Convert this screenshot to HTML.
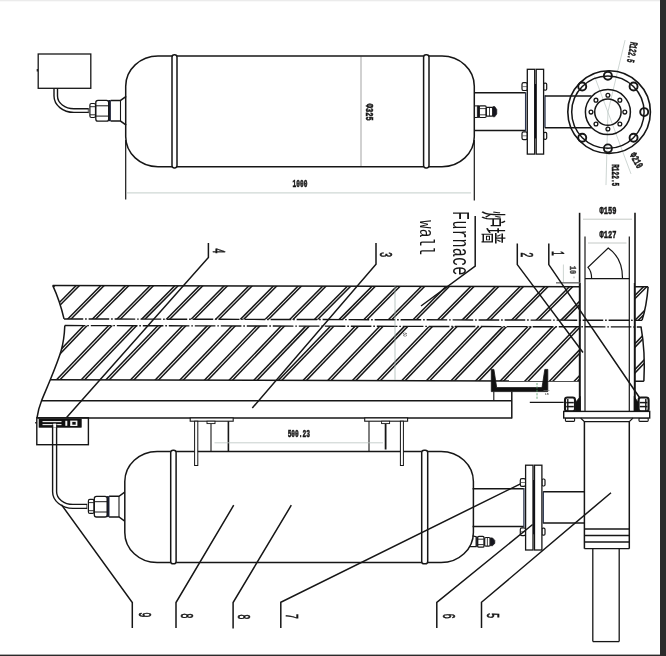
<!DOCTYPE html>
<html lang="zh"><head><meta charset="utf-8"><title>Furnace wall drawing</title>
<style>html,body{margin:0;padding:0;background:#fff;}body{width:666px;height:656px;overflow:hidden;}svg{display:block;will-change:transform;opacity:0.999;}</style>
</head><body>
<svg width="666" height="656" viewBox="0 0 666 656" font-family="'Liberation Sans','Noto Sans CJK SC',sans-serif">
<rect x="0" y="0" width="666" height="656" fill="#ffffff"/>
<rect x="0" y="0" width="660" height="1.3" fill="#ebebeb"/>
<rect x="660" y="0" width="6" height="656" fill="#2b2b2b"/>
<rect x="0" y="654.6" width="666" height="1.4" fill="#2b2b2b"/>
<line x1="125.70" y1="140.00" x2="125.70" y2="199.40" stroke="#161616" stroke-width="1.2" />
<line x1="474.30" y1="140.00" x2="474.30" y2="200.50" stroke="#161616" stroke-width="1.2" />
<line x1="127.00" y1="192.90" x2="471.00" y2="192.90" stroke="#cfd8d5" stroke-width="1.1" />
<line x1="361.00" y1="56.50" x2="361.00" y2="166.00" stroke="#666" stroke-width="0.6" />
<text transform="translate(300.00 184.30) rotate(0) scale(0.66 1.15)" font-family="'Liberation Mono',monospace" font-size="9.4" font-weight="bold" text-anchor="middle" dominant-baseline="central" fill="#161616" letter-spacing="0"  stroke="#161616" stroke-width="0.45">1000</text>
<text transform="translate(368.60 112.20) rotate(90) scale(0.75 1.15)" font-family="'Liberation Mono',monospace" font-size="9.4" font-weight="bold" text-anchor="middle" dominant-baseline="central" fill="#161616" letter-spacing="0"  stroke="#161616" stroke-width="0.45">Φ325</text>
<path d="M172.00 56.00 L158.00 56.00 C140.16 56.00 125.70 69.52 125.70 86.20 L125.70 136.50 C125.70 153.18 140.16 166.70 158.00 166.70 L172.00 166.70" stroke="#161616" stroke-width="1.5" fill="none" />
<path d="M429.00 56.00 L442.00 56.00 C459.84 56.00 474.30 69.52 474.30 86.20 L474.30 136.50 C474.30 153.18 459.84 166.70 442.00 166.70 L429.00 166.70" stroke="#161616" stroke-width="1.5" fill="none" />
<line x1="177.00" y1="56.00" x2="423.60" y2="56.00" stroke="#161616" stroke-width="1.5" />
<line x1="177.00" y1="166.70" x2="423.60" y2="166.70" stroke="#161616" stroke-width="1.5" />
<rect x="172.00" y="54.80" width="5.00" height="113.10" rx="2.4" stroke="#161616" stroke-width="1.5" fill="#fff"/>
<rect x="423.60" y="54.80" width="5.40" height="113.10" rx="2.4" stroke="#161616" stroke-width="1.5" fill="#fff"/>
<path d="M126.20 96.30 L120.50 100.40 L110.60 100.40 M126.20 125.20 L120.50 121.10 L110.60 121.10" stroke="#161616" stroke-width="1.5" fill="none" />
<line x1="120.50" y1="100.40" x2="120.50" y2="121.10" stroke="#161616" stroke-width="1.1" />
<rect x="108.70" y="100.60" width="1.90" height="20.30" rx="0" stroke="#10142a" stroke-width="0.6" fill="#1b2038"/>
<rect x="95.80" y="100.40" width="12.90" height="20.70" rx="2.2" stroke="#161616" stroke-width="1.3" fill="none"/>
<line x1="96.00" y1="105.80" x2="108.60" y2="105.80" stroke="#161616" stroke-width="1" />
<line x1="96.00" y1="116.10" x2="108.60" y2="116.10" stroke="#161616" stroke-width="1" />
<rect x="89.90" y="103.50" width="5.60" height="14.00" rx="1.5" stroke="#161616" stroke-width="1.2" fill="none"/>
<line x1="90.00" y1="106.70" x2="95.40" y2="106.70" stroke="#161616" stroke-width="0.9" />
<line x1="90.00" y1="114.80" x2="95.40" y2="114.80" stroke="#161616" stroke-width="0.9" />
<line x1="88.30" y1="108.30" x2="88.30" y2="113.20" stroke="#555" stroke-width="1" />
<rect x="38.20" y="54.00" width="52.60" height="34.30" rx="0" stroke="#161616" stroke-width="1.3" fill="none"/>
<line x1="37.30" y1="69.00" x2="37.30" y2="71.50" stroke="#161616" stroke-width="1.2" />
<path d="M54.0 88.3 L54.0 96 A19.9 16.4 0 0 0 73.9 112.4 L88.6 112.4" stroke="#161616" stroke-width="1.4" fill="none" />
<path d="M57.5 88.3 L57.5 96 A16.4 12.7 0 0 0 73.9 108.7 L88.6 108.7" stroke="#161616" stroke-width="1.4" fill="none" />
<line x1="474.30" y1="105.90" x2="477.20" y2="105.90" stroke="#161616" stroke-width="1" />
<line x1="474.30" y1="117.50" x2="477.20" y2="117.50" stroke="#161616" stroke-width="1" />
<rect x="477.20" y="105.70" width="2.00" height="12.00" rx="0" stroke="#161616" stroke-width="0.6" fill="#15151f"/>
<rect x="479.20" y="105.90" width="7.00" height="11.60" rx="1.2" stroke="#161616" stroke-width="1.2" fill="none"/>
<line x1="479.40" y1="108.60" x2="486.00" y2="108.60" stroke="#161616" stroke-width="0.8" />
<line x1="479.40" y1="114.80" x2="486.00" y2="114.80" stroke="#161616" stroke-width="0.8" />
<rect x="486.20" y="107.30" width="6.60" height="8.80" rx="1.2" stroke="#161616" stroke-width="1.2" fill="none"/>
<line x1="489.50" y1="107.50" x2="489.50" y2="116.00" stroke="#161616" stroke-width="0.8" />
<path d="M492.8 106.6 L494.8 106.6 L496.8 109.5 L496.8 113.9 L494.8 116.8 L492.8 116.8 Z" stroke="#161616" stroke-width="0.6" fill="#15151f" />
<line x1="474.30" y1="92.80" x2="525.50" y2="92.80" stroke="#161616" stroke-width="1.5" />
<line x1="474.30" y1="130.50" x2="525.50" y2="130.50" stroke="#161616" stroke-width="1.5" />
<line x1="525.60" y1="92.20" x2="525.60" y2="131.00" stroke="#2a3550" stroke-width="1.3" />
<line x1="545.00" y1="95.30" x2="545.00" y2="127.70" stroke="#2a3550" stroke-width="1.3" />
<rect x="522.00" y="82.70" width="5.30" height="7.80" rx="1.6" stroke="#161616" stroke-width="1.2" fill="#fff"/>
<line x1="522.30" y1="86.60" x2="527.00" y2="86.60" stroke="#444" stroke-width="0.7" />
<rect x="543.60" y="83.10" width="3.10" height="7.00" rx="1.2" stroke="#161616" stroke-width="1.2" fill="#fff"/>
<rect x="522.00" y="131.90" width="5.30" height="7.80" rx="1.6" stroke="#161616" stroke-width="1.2" fill="#fff"/>
<line x1="522.30" y1="135.80" x2="527.00" y2="135.80" stroke="#444" stroke-width="0.7" />
<rect x="543.60" y="132.30" width="3.10" height="7.00" rx="1.2" stroke="#161616" stroke-width="1.2" fill="#fff"/>
<rect x="527.30" y="69.30" width="7.40" height="84.80" rx="0" stroke="#161616" stroke-width="1.3" fill="#fff"/>
<rect x="536.20" y="69.30" width="7.40" height="84.80" rx="0" stroke="#161616" stroke-width="1.3" fill="#fff"/>
<line x1="535.45" y1="84.00" x2="535.45" y2="138.40" stroke="#0c0c14" stroke-width="1.3" />
<line x1="545.00" y1="96.00" x2="591.50" y2="96.00" stroke="#161616" stroke-width="1.5" />
<line x1="545.00" y1="127.70" x2="591.50" y2="127.70" stroke="#161616" stroke-width="1.5" />
<line x1="607.90" y1="112.10" x2="625.05" y2="40.11" stroke="#b9c4c0" stroke-width="0.7" />
<line x1="594.59" y1="76.51" x2="631.01" y2="173.92" stroke="#b9c4c0" stroke-width="0.7" />
<line x1="607.90" y1="112.10" x2="605.99" y2="185.07" stroke="#b9c4c0" stroke-width="0.7" />
<circle cx="609.10" cy="112.10" r="41.30" stroke="#161616" stroke-width="1.6" fill="none"/>
<circle cx="607.90" cy="112.10" r="36.20" stroke="#161616" stroke-width="1.5" fill="none"/>
<circle cx="607.90" cy="112.10" r="22.50" stroke="#161616" stroke-width="1.5" fill="none"/>
<circle cx="607.90" cy="112.10" r="13.20" stroke="#161616" stroke-width="1.5" fill="none"/>
<circle cx="644.20" cy="112.10" r="4.00" stroke="#161616" stroke-width="1.9" fill="none"/>
<circle cx="633.57" cy="86.43" r="4.00" stroke="#161616" stroke-width="1.9" fill="none"/>
<circle cx="607.90" cy="75.80" r="4.00" stroke="#161616" stroke-width="1.9" fill="none"/>
<circle cx="582.23" cy="86.43" r="4.00" stroke="#161616" stroke-width="1.9" fill="none"/>
<circle cx="582.23" cy="137.77" r="4.00" stroke="#161616" stroke-width="1.9" fill="none"/>
<circle cx="607.90" cy="148.40" r="4.00" stroke="#161616" stroke-width="1.9" fill="none"/>
<circle cx="633.57" cy="137.77" r="4.00" stroke="#161616" stroke-width="1.9" fill="none"/>
<circle cx="624.80" cy="112.10" r="1.90" stroke="#161616" stroke-width="1.3" fill="none"/>
<circle cx="619.85" cy="100.15" r="1.90" stroke="#161616" stroke-width="1.3" fill="none"/>
<circle cx="607.90" cy="95.20" r="1.90" stroke="#161616" stroke-width="1.3" fill="none"/>
<circle cx="595.95" cy="100.15" r="1.90" stroke="#161616" stroke-width="1.3" fill="none"/>
<circle cx="591.00" cy="112.10" r="1.90" stroke="#161616" stroke-width="1.3" fill="none"/>
<circle cx="595.95" cy="124.05" r="1.90" stroke="#161616" stroke-width="1.3" fill="none"/>
<circle cx="607.90" cy="129.00" r="1.90" stroke="#161616" stroke-width="1.3" fill="none"/>
<circle cx="619.85" cy="124.05" r="1.90" stroke="#161616" stroke-width="1.3" fill="none"/>
<text transform="translate(631.30 52.10) rotate(100.5) scale(0.6 1.12)" font-family="'Liberation Mono',monospace" font-size="9.6" font-weight="bold" text-anchor="middle" dominant-baseline="central" fill="#161616" letter-spacing="0"  stroke="#161616" stroke-width="0.45">R122.5</text>
<text transform="translate(635.50 160.80) rotate(61) scale(0.72 1.12)" font-family="'Liberation Mono',monospace" font-size="9.4" font-weight="bold" text-anchor="middle" dominant-baseline="central" fill="#161616" letter-spacing="0"  stroke="#161616" stroke-width="0.45">Φ210</text>
<text transform="translate(614.20 175.20) rotate(90) scale(0.64 1.12)" font-family="'Liberation Mono',monospace" font-size="9.6" font-weight="bold" text-anchor="middle" dominant-baseline="central" fill="#161616" letter-spacing="0"  stroke="#161616" stroke-width="0.45">R122.5</text>
<defs><clipPath id="wall">
<path d="M52.6 285.5 Q59.8 301 64 319.0 L579.6 319.0 L579.6 285.5 Z"/>
<path d="M64.8 325.6 C64.4 336 63.2 344 61.1 351.1 S54 371 50.4 379.9 L579.6 379.9 L579.6 325.6 Z"/>
<path d="M635.0 285.5 L648 285.5 Q646.5 305 642 319.0 L635.0 319.0 Z"/>
<path d="M635.0 325.6 L641 325.6 Q645.5 350 644 379.9 L635.0 379.9 Z"/>
</clipPath></defs>
<g transform="rotate(0.14 90 330)">
<g clip-path="url(#wall)">
<line x1="54.39" y1="282.50" x2="15.49" y2="322.00" stroke="#161616" stroke-width="1.5" />
<line x1="57.70" y1="282.50" x2="18.79" y2="322.00" stroke="#161616" stroke-width="1.5" />
<line x1="62.01" y1="322.60" x2="4.42" y2="382.90" stroke="#161616" stroke-width="1.5" />
<line x1="65.41" y1="322.60" x2="7.82" y2="382.90" stroke="#161616" stroke-width="1.5" />
<line x1="79.05" y1="282.50" x2="40.15" y2="322.00" stroke="#161616" stroke-width="1.5" />
<line x1="82.35" y1="282.50" x2="43.45" y2="322.00" stroke="#161616" stroke-width="1.5" />
<line x1="86.66" y1="322.60" x2="29.08" y2="382.90" stroke="#161616" stroke-width="1.5" />
<line x1="90.06" y1="322.60" x2="32.48" y2="382.90" stroke="#161616" stroke-width="1.5" />
<line x1="103.71" y1="282.50" x2="64.81" y2="322.00" stroke="#161616" stroke-width="1.5" />
<line x1="107.01" y1="282.50" x2="68.11" y2="322.00" stroke="#161616" stroke-width="1.5" />
<line x1="111.32" y1="322.60" x2="53.74" y2="382.90" stroke="#161616" stroke-width="1.5" />
<line x1="114.72" y1="322.60" x2="57.14" y2="382.90" stroke="#161616" stroke-width="1.5" />
<line x1="128.38" y1="282.50" x2="89.47" y2="322.00" stroke="#161616" stroke-width="1.5" />
<line x1="131.68" y1="282.50" x2="92.77" y2="322.00" stroke="#161616" stroke-width="1.5" />
<line x1="135.99" y1="322.60" x2="78.40" y2="382.90" stroke="#161616" stroke-width="1.5" />
<line x1="139.38" y1="322.60" x2="81.80" y2="382.90" stroke="#161616" stroke-width="1.5" />
<line x1="153.04" y1="282.50" x2="114.13" y2="322.00" stroke="#161616" stroke-width="1.5" />
<line x1="156.34" y1="282.50" x2="117.43" y2="322.00" stroke="#161616" stroke-width="1.5" />
<line x1="160.65" y1="322.60" x2="103.06" y2="382.90" stroke="#161616" stroke-width="1.5" />
<line x1="164.05" y1="322.60" x2="106.46" y2="382.90" stroke="#161616" stroke-width="1.5" />
<line x1="177.70" y1="282.50" x2="138.79" y2="322.00" stroke="#161616" stroke-width="1.5" />
<line x1="181.00" y1="282.50" x2="142.09" y2="322.00" stroke="#161616" stroke-width="1.5" />
<line x1="185.31" y1="322.60" x2="127.72" y2="382.90" stroke="#161616" stroke-width="1.5" />
<line x1="188.70" y1="322.60" x2="131.12" y2="382.90" stroke="#161616" stroke-width="1.5" />
<line x1="202.36" y1="282.50" x2="163.45" y2="322.00" stroke="#161616" stroke-width="1.5" />
<line x1="205.66" y1="282.50" x2="166.75" y2="322.00" stroke="#161616" stroke-width="1.5" />
<line x1="209.97" y1="322.60" x2="152.38" y2="382.90" stroke="#161616" stroke-width="1.5" />
<line x1="213.37" y1="322.60" x2="155.78" y2="382.90" stroke="#161616" stroke-width="1.5" />
<line x1="227.02" y1="282.50" x2="188.11" y2="322.00" stroke="#161616" stroke-width="1.5" />
<line x1="230.31" y1="282.50" x2="191.41" y2="322.00" stroke="#161616" stroke-width="1.5" />
<line x1="234.63" y1="322.60" x2="177.04" y2="382.90" stroke="#161616" stroke-width="1.5" />
<line x1="238.03" y1="322.60" x2="180.44" y2="382.90" stroke="#161616" stroke-width="1.5" />
<line x1="251.68" y1="282.50" x2="212.77" y2="322.00" stroke="#161616" stroke-width="1.5" />
<line x1="254.98" y1="282.50" x2="216.07" y2="322.00" stroke="#161616" stroke-width="1.5" />
<line x1="259.29" y1="322.60" x2="201.70" y2="382.90" stroke="#161616" stroke-width="1.5" />
<line x1="262.69" y1="322.60" x2="205.10" y2="382.90" stroke="#161616" stroke-width="1.5" />
<line x1="276.33" y1="282.50" x2="237.43" y2="322.00" stroke="#161616" stroke-width="1.5" />
<line x1="279.63" y1="282.50" x2="240.73" y2="322.00" stroke="#161616" stroke-width="1.5" />
<line x1="283.94" y1="322.60" x2="226.36" y2="382.90" stroke="#161616" stroke-width="1.5" />
<line x1="287.34" y1="322.60" x2="229.76" y2="382.90" stroke="#161616" stroke-width="1.5" />
<line x1="301.00" y1="282.50" x2="262.09" y2="322.00" stroke="#161616" stroke-width="1.5" />
<line x1="304.30" y1="282.50" x2="265.39" y2="322.00" stroke="#161616" stroke-width="1.5" />
<line x1="308.61" y1="322.60" x2="251.02" y2="382.90" stroke="#161616" stroke-width="1.5" />
<line x1="312.00" y1="322.60" x2="254.42" y2="382.90" stroke="#161616" stroke-width="1.5" />
<line x1="325.65" y1="282.50" x2="286.75" y2="322.00" stroke="#161616" stroke-width="1.5" />
<line x1="328.95" y1="282.50" x2="290.05" y2="322.00" stroke="#161616" stroke-width="1.5" />
<line x1="333.27" y1="322.60" x2="275.68" y2="382.90" stroke="#161616" stroke-width="1.5" />
<line x1="336.67" y1="322.60" x2="279.08" y2="382.90" stroke="#161616" stroke-width="1.5" />
<line x1="350.31" y1="282.50" x2="311.41" y2="322.00" stroke="#161616" stroke-width="1.5" />
<line x1="353.62" y1="282.50" x2="314.71" y2="322.00" stroke="#161616" stroke-width="1.5" />
<line x1="357.93" y1="322.60" x2="300.34" y2="382.90" stroke="#161616" stroke-width="1.5" />
<line x1="361.32" y1="322.60" x2="303.74" y2="382.90" stroke="#161616" stroke-width="1.5" />
<line x1="374.98" y1="282.50" x2="336.07" y2="322.00" stroke="#161616" stroke-width="1.5" />
<line x1="378.28" y1="282.50" x2="339.37" y2="322.00" stroke="#161616" stroke-width="1.5" />
<line x1="382.59" y1="322.60" x2="325.00" y2="382.90" stroke="#161616" stroke-width="1.5" />
<line x1="385.99" y1="322.60" x2="328.40" y2="382.90" stroke="#161616" stroke-width="1.5" />
<line x1="399.63" y1="282.50" x2="360.73" y2="322.00" stroke="#161616" stroke-width="1.5" />
<line x1="402.94" y1="282.50" x2="364.03" y2="322.00" stroke="#161616" stroke-width="1.5" />
<line x1="407.25" y1="322.60" x2="349.66" y2="382.90" stroke="#161616" stroke-width="1.5" />
<line x1="410.64" y1="322.60" x2="353.06" y2="382.90" stroke="#161616" stroke-width="1.5" />
<line x1="424.30" y1="282.50" x2="385.39" y2="322.00" stroke="#161616" stroke-width="1.5" />
<line x1="427.60" y1="282.50" x2="388.69" y2="322.00" stroke="#161616" stroke-width="1.5" />
<line x1="431.91" y1="322.60" x2="374.32" y2="382.90" stroke="#161616" stroke-width="1.5" />
<line x1="435.31" y1="322.60" x2="377.72" y2="382.90" stroke="#161616" stroke-width="1.5" />
<line x1="448.95" y1="282.50" x2="410.05" y2="322.00" stroke="#161616" stroke-width="1.5" />
<line x1="452.25" y1="282.50" x2="413.35" y2="322.00" stroke="#161616" stroke-width="1.5" />
<line x1="456.56" y1="322.60" x2="398.98" y2="382.90" stroke="#161616" stroke-width="1.5" />
<line x1="459.96" y1="322.60" x2="402.38" y2="382.90" stroke="#161616" stroke-width="1.5" />
<line x1="473.62" y1="282.50" x2="434.71" y2="322.00" stroke="#161616" stroke-width="1.5" />
<line x1="476.92" y1="282.50" x2="438.01" y2="322.00" stroke="#161616" stroke-width="1.5" />
<line x1="481.23" y1="322.60" x2="423.64" y2="382.90" stroke="#161616" stroke-width="1.5" />
<line x1="484.62" y1="322.60" x2="427.04" y2="382.90" stroke="#161616" stroke-width="1.5" />
<line x1="498.28" y1="282.50" x2="459.37" y2="322.00" stroke="#161616" stroke-width="1.5" />
<line x1="501.58" y1="282.50" x2="462.67" y2="322.00" stroke="#161616" stroke-width="1.5" />
<line x1="505.89" y1="322.60" x2="448.30" y2="382.90" stroke="#161616" stroke-width="1.5" />
<line x1="509.29" y1="322.60" x2="451.70" y2="382.90" stroke="#161616" stroke-width="1.5" />
<line x1="522.93" y1="282.50" x2="484.03" y2="322.00" stroke="#161616" stroke-width="1.5" />
<line x1="526.24" y1="282.50" x2="487.33" y2="322.00" stroke="#161616" stroke-width="1.5" />
<line x1="530.54" y1="322.60" x2="472.96" y2="382.90" stroke="#161616" stroke-width="1.5" />
<line x1="533.95" y1="322.60" x2="476.36" y2="382.90" stroke="#161616" stroke-width="1.5" />
<line x1="547.60" y1="282.50" x2="508.69" y2="322.00" stroke="#161616" stroke-width="1.5" />
<line x1="550.90" y1="282.50" x2="511.99" y2="322.00" stroke="#161616" stroke-width="1.5" />
<line x1="555.20" y1="322.60" x2="497.62" y2="382.90" stroke="#161616" stroke-width="1.5" />
<line x1="558.61" y1="322.60" x2="501.02" y2="382.90" stroke="#161616" stroke-width="1.5" />
<line x1="572.25" y1="282.50" x2="533.35" y2="322.00" stroke="#161616" stroke-width="1.5" />
<line x1="575.56" y1="282.50" x2="536.65" y2="322.00" stroke="#161616" stroke-width="1.5" />
<line x1="579.87" y1="322.60" x2="522.28" y2="382.90" stroke="#161616" stroke-width="1.5" />
<line x1="583.27" y1="322.60" x2="525.68" y2="382.90" stroke="#161616" stroke-width="1.5" />
<line x1="596.91" y1="282.50" x2="558.01" y2="322.00" stroke="#161616" stroke-width="1.5" />
<line x1="600.22" y1="282.50" x2="561.31" y2="322.00" stroke="#161616" stroke-width="1.5" />
<line x1="604.52" y1="322.60" x2="546.94" y2="382.90" stroke="#161616" stroke-width="1.5" />
<line x1="607.93" y1="322.60" x2="550.34" y2="382.90" stroke="#161616" stroke-width="1.5" />
<line x1="621.57" y1="282.50" x2="582.67" y2="322.00" stroke="#161616" stroke-width="1.5" />
<line x1="624.88" y1="282.50" x2="585.97" y2="322.00" stroke="#161616" stroke-width="1.5" />
<line x1="629.18" y1="322.60" x2="571.60" y2="382.90" stroke="#161616" stroke-width="1.5" />
<line x1="632.59" y1="322.60" x2="575.00" y2="382.90" stroke="#161616" stroke-width="1.5" />
<line x1="646.23" y1="282.50" x2="607.33" y2="322.00" stroke="#161616" stroke-width="1.5" />
<line x1="649.53" y1="282.50" x2="610.63" y2="322.00" stroke="#161616" stroke-width="1.5" />
<line x1="653.84" y1="322.60" x2="596.26" y2="382.90" stroke="#161616" stroke-width="1.5" />
<line x1="657.25" y1="322.60" x2="599.66" y2="382.90" stroke="#161616" stroke-width="1.5" />
<line x1="670.89" y1="282.50" x2="631.99" y2="322.00" stroke="#161616" stroke-width="1.5" />
<line x1="674.20" y1="282.50" x2="635.29" y2="322.00" stroke="#161616" stroke-width="1.5" />
<line x1="678.50" y1="322.60" x2="620.92" y2="382.90" stroke="#161616" stroke-width="1.5" />
<line x1="681.91" y1="322.60" x2="624.32" y2="382.90" stroke="#161616" stroke-width="1.5" />
<line x1="695.55" y1="282.50" x2="656.65" y2="322.00" stroke="#161616" stroke-width="1.5" />
<line x1="698.86" y1="282.50" x2="659.95" y2="322.00" stroke="#161616" stroke-width="1.5" />
<line x1="703.16" y1="322.60" x2="645.58" y2="382.90" stroke="#161616" stroke-width="1.5" />
<line x1="706.57" y1="322.60" x2="648.98" y2="382.90" stroke="#161616" stroke-width="1.5" />
<line x1="720.21" y1="282.50" x2="681.31" y2="322.00" stroke="#161616" stroke-width="1.5" />
<line x1="723.51" y1="282.50" x2="684.61" y2="322.00" stroke="#161616" stroke-width="1.5" />
<line x1="727.82" y1="322.60" x2="670.24" y2="382.90" stroke="#161616" stroke-width="1.5" />
<line x1="731.23" y1="322.60" x2="673.64" y2="382.90" stroke="#161616" stroke-width="1.5" />
<line x1="744.88" y1="282.50" x2="705.97" y2="322.00" stroke="#161616" stroke-width="1.5" />
<line x1="748.18" y1="282.50" x2="709.27" y2="322.00" stroke="#161616" stroke-width="1.5" />
<line x1="752.49" y1="322.60" x2="694.90" y2="382.90" stroke="#161616" stroke-width="1.5" />
<line x1="755.89" y1="322.60" x2="698.30" y2="382.90" stroke="#161616" stroke-width="1.5" />
<line x1="769.53" y1="282.50" x2="730.63" y2="322.00" stroke="#161616" stroke-width="1.5" />
<line x1="772.84" y1="282.50" x2="733.93" y2="322.00" stroke="#161616" stroke-width="1.5" />
<line x1="777.14" y1="322.60" x2="719.56" y2="382.90" stroke="#161616" stroke-width="1.5" />
<line x1="780.55" y1="322.60" x2="722.96" y2="382.90" stroke="#161616" stroke-width="1.5" />
<line x1="794.19" y1="282.50" x2="755.29" y2="322.00" stroke="#161616" stroke-width="1.5" />
<line x1="797.50" y1="282.50" x2="758.59" y2="322.00" stroke="#161616" stroke-width="1.5" />
<line x1="801.80" y1="322.60" x2="744.22" y2="382.90" stroke="#161616" stroke-width="1.5" />
<line x1="805.21" y1="322.60" x2="747.62" y2="382.90" stroke="#161616" stroke-width="1.5" />
</g>
<line x1="52.60" y1="285.50" x2="579.60" y2="285.50" stroke="#161616" stroke-width="1.5" />
<line x1="635.00" y1="285.50" x2="648.00" y2="285.50" stroke="#161616" stroke-width="1.5" />
<line x1="50.40" y1="379.90" x2="579.60" y2="379.90" stroke="#161616" stroke-width="1.5" />
<line x1="635.00" y1="379.90" x2="644.00" y2="379.90" stroke="#161616" stroke-width="1.5" />
<path d="M52.6 285.5 Q59.8 301 64 319.0" stroke="#161616" stroke-width="1.5" fill="none" />
<path d="M64.8 325.6 C64.4 336 63.2 344 61.1 351.1 S54 371 50.4 379.9 S44 395 41.8 400.6 S38 412 37.2 418.0" stroke="#161616" stroke-width="1.5" fill="none" />
<path d="M648 285.5 Q646.5 305 642 319.0" stroke="#161616" stroke-width="1.5" fill="none" />
<path d="M641 325.6 Q645.5 350 644 379.9" stroke="#161616" stroke-width="1.5" fill="none" />
<line x1="64.00" y1="319.00" x2="642.00" y2="319.00" stroke="#161616" stroke-width="1.4" stroke-dasharray="20.6 1.9 1.6 1.9" stroke-dashoffset="1.4"/>
<line x1="64.80" y1="325.60" x2="641.50" y2="325.60" stroke="#161616" stroke-width="1.4" stroke-dasharray="20.6 1.9 1.6 1.9"/>
</g>
<line x1="395.00" y1="285.50" x2="395.00" y2="379.90" stroke="#9fb0aa" stroke-width="0.7" />
<text transform="translate(404.50 334.50) rotate(90) scale(0.7 1.0)" font-family="'Liberation Mono',monospace" font-size="4.5" font-weight="normal" text-anchor="middle" dominant-baseline="central" fill="#161616" letter-spacing="0" >60</text>
<line x1="41.00" y1="400.80" x2="511.80" y2="400.80" stroke="#161616" stroke-width="1.5" />
<line x1="37.40" y1="417.90" x2="511.80" y2="417.90" stroke="#161616" stroke-width="1.5" />
<line x1="511.80" y1="391.60" x2="511.80" y2="418.40" stroke="#161616" stroke-width="1.5" />
<line x1="493.80" y1="391.60" x2="493.80" y2="400.80" stroke="#161616" stroke-width="1.1" />
<line x1="529.80" y1="402.40" x2="563.70" y2="402.40" stroke="#161616" stroke-width="1.1" />
<path d="M491.3 369.4 L493.9 369.4 L496.7 387.6 L542.0 387.6 L544.8 369.4 L547.8 369.4 L547.8 391.6 L491.3 391.6 Z" stroke="#161616" stroke-width="0.8" fill="#111" />
<line x1="537.00" y1="383.00" x2="537.00" y2="399.50" stroke="#4f9a63" stroke-width="0.8" stroke-dasharray="2.2 1.2"/>
<line x1="543.50" y1="390.50" x2="549.50" y2="390.50" stroke="#777" stroke-width="0.6" />
<text transform="translate(546.80 394.20) rotate(0) scale(0.8 1.0)" font-family="'Liberation Mono',monospace" font-size="4.2" font-weight="normal" text-anchor="middle" dominant-baseline="central" fill="#161616" letter-spacing="0" >10</text>
<line x1="579.60" y1="212.80" x2="579.60" y2="283.00" stroke="#161616" stroke-width="1.6" />
<line x1="635.00" y1="212.80" x2="635.00" y2="283.00" stroke="#161616" stroke-width="1.6" />
<line x1="579.80" y1="283.00" x2="579.80" y2="411.50" stroke="#161616" stroke-width="2.0" />
<line x1="634.80" y1="283.00" x2="634.80" y2="411.50" stroke="#161616" stroke-width="2.0" />
<line x1="585.00" y1="236.60" x2="585.00" y2="411.50" stroke="#161616" stroke-width="1.2" />
<line x1="629.30" y1="236.60" x2="629.30" y2="411.50" stroke="#161616" stroke-width="1.2" />
<line x1="585.00" y1="278.70" x2="629.30" y2="278.70" stroke="#161616" stroke-width="1.2" />
<path d="M591.6 278.2 C591.6 273 590.5 270 588.0 267.3 L608.2 248.0 C617 254 622.5 264 622.5 278.2" stroke="#161616" stroke-width="1.2" fill="none" />
<line x1="583.00" y1="219.20" x2="632.00" y2="219.20" stroke="#b5bbb8" stroke-width="0.8" />
<line x1="588.00" y1="243.00" x2="626.50" y2="243.00" stroke="#b5bbb8" stroke-width="0.8" />
<text transform="translate(608.00 211.10) rotate(0) scale(0.75 1.18)" font-family="'Liberation Mono',monospace" font-size="9.4" font-weight="bold" text-anchor="middle" dominant-baseline="central" fill="#161616" letter-spacing="0"  stroke="#161616" stroke-width="0.45">Φ159</text>
<text transform="translate(608.00 234.60) rotate(0) scale(0.75 1.18)" font-family="'Liberation Mono',monospace" font-size="9.4" font-weight="bold" text-anchor="middle" dominant-baseline="central" fill="#161616" letter-spacing="0"  stroke="#161616" stroke-width="0.45">Φ127</text>
<line x1="556.00" y1="282.80" x2="579.60" y2="282.80" stroke="#777" stroke-width="1.5" />
<line x1="563.40" y1="264.50" x2="563.40" y2="282.00" stroke="#b9c4c0" stroke-width="0.7" />
<text transform="translate(572.20 270.00) rotate(90) scale(0.8 1.0)" font-family="'Liberation Mono',monospace" font-size="8.5" font-weight="bold" text-anchor="middle" dominant-baseline="central" fill="#444" letter-spacing="0"  stroke="#444" stroke-width="0.45">10</text>
<text transform="translate(572.60 277.20) rotate(90) scale(1.0 1.0)" font-family="'Liberation Mono',monospace" font-size="6" font-weight="normal" text-anchor="middle" dominant-baseline="central" fill="#888" letter-spacing="0" >°</text>
<rect x="565.00" y="397.50" width="10.00" height="13.80" rx="2.4" stroke="#161616" stroke-width="2.1" fill="#fff"/>
<line x1="566.20" y1="402.60" x2="573.80" y2="402.60" stroke="#161616" stroke-width="1.5" />
<line x1="566.20" y1="406.60" x2="573.80" y2="406.60" stroke="#161616" stroke-width="1.5" />
<line x1="567.80" y1="399.00" x2="567.80" y2="411.00" stroke="#161616" stroke-width="1.4" />
<rect x="565.40" y="418.00" width="9.20" height="3.40" rx="0.8" stroke="#161616" stroke-width="1.1" fill="#fff"/>
<rect x="638.60" y="397.50" width="10.00" height="13.80" rx="2.4" stroke="#161616" stroke-width="2.1" fill="#fff"/>
<line x1="639.80" y1="402.60" x2="647.40" y2="402.60" stroke="#161616" stroke-width="1.5" />
<line x1="639.80" y1="406.60" x2="647.40" y2="406.60" stroke="#161616" stroke-width="1.5" />
<line x1="645.80" y1="399.00" x2="645.80" y2="411.00" stroke="#161616" stroke-width="1.4" />
<rect x="639.00" y="418.00" width="9.20" height="3.40" rx="0.8" stroke="#161616" stroke-width="1.1" fill="#fff"/>
<path d="M575.4 411.4 L575.4 402.5 L580.4 396.5 L580.4 411.4 Z" stroke="#161616" stroke-width="0.8" fill="#111" />
<path d="M638.2 411.4 L638.2 402.5 L634.2 396.5 L634.2 411.4 Z" stroke="#161616" stroke-width="0.8" fill="#111" />
<rect x="563.70" y="411.40" width="86.00" height="6.60" rx="0" stroke="#161616" stroke-width="1.4" fill="#fff"/>
<path d="M580.6 418 L584.4 421.6 L629.3 421.6 L633.0 418" stroke="#161616" stroke-width="1.2" fill="none" />
<line x1="584.40" y1="421.60" x2="584.40" y2="548.70" stroke="#161616" stroke-width="1.5" />
<line x1="629.30" y1="421.60" x2="629.30" y2="548.70" stroke="#161616" stroke-width="1.5" />
<line x1="584.40" y1="529.00" x2="629.30" y2="529.00" stroke="#161616" stroke-width="1.3" />
<line x1="584.40" y1="535.50" x2="629.30" y2="535.50" stroke="#161616" stroke-width="1.3" />
<line x1="584.40" y1="542.00" x2="629.30" y2="542.00" stroke="#161616" stroke-width="1.3" />
<line x1="584.40" y1="548.70" x2="629.30" y2="548.70" stroke="#161616" stroke-width="1.3" />
<line x1="592.80" y1="548.70" x2="592.80" y2="641.60" stroke="#161616" stroke-width="1.3" />
<line x1="619.20" y1="548.70" x2="619.20" y2="641.60" stroke="#161616" stroke-width="1.3" />
<line x1="592.80" y1="641.60" x2="619.20" y2="641.60" stroke="#161616" stroke-width="1.3" />
<path d="M170.70 451.40 L157.10 451.40 C139.26 451.40 124.80 464.92 124.80 481.60 L124.80 532.40 C124.80 549.08 139.26 562.60 157.10 562.60 L170.70 562.60" stroke="#161616" stroke-width="1.5" fill="none" />
<path d="M427.70 451.40 L441.10 451.40 C458.94 451.40 473.40 464.92 473.40 481.60 L473.40 532.40 C473.40 549.08 458.94 562.60 441.10 562.60 L427.70 562.60" stroke="#161616" stroke-width="1.5" fill="none" />
<line x1="176.10" y1="451.40" x2="421.70" y2="451.40" stroke="#161616" stroke-width="1.5" />
<line x1="176.10" y1="562.60" x2="421.70" y2="562.60" stroke="#161616" stroke-width="1.5" />
<rect x="170.70" y="450.20" width="5.40" height="113.60" rx="2.4" stroke="#161616" stroke-width="1.5" fill="#fff"/>
<rect x="421.70" y="450.20" width="6.00" height="113.60" rx="2.4" stroke="#161616" stroke-width="1.5" fill="#fff"/>
<rect x="190.20" y="418.00" width="43.00" height="3.20" rx="0" stroke="#161616" stroke-width="1.1" fill="#fff"/>
<rect x="194.60" y="421.20" width="3.20" height="44.30" rx="0" stroke="#161616" stroke-width="1.0" fill="#fff"/>
<line x1="211.00" y1="424.00" x2="211.00" y2="451.30" stroke="#161616" stroke-width="1.1" />
<line x1="228.40" y1="421.20" x2="228.40" y2="451.30" stroke="#161616" stroke-width="1.6" />
<rect x="207.00" y="421.20" width="8.00" height="2.40" rx="0" stroke="#161616" stroke-width="0.9" fill="#fff"/>
<rect x="364.70" y="418.00" width="42.90" height="3.20" rx="0" stroke="#161616" stroke-width="1.1" fill="#fff"/>
<rect x="400.40" y="421.20" width="3.00" height="44.30" rx="0" stroke="#161616" stroke-width="1.0" fill="#fff"/>
<line x1="369.00" y1="421.20" x2="369.00" y2="451.30" stroke="#161616" stroke-width="1.1" />
<line x1="385.60" y1="424.00" x2="385.60" y2="449.50" stroke="#161616" stroke-width="1.8" />
<rect x="381.60" y="421.20" width="8.00" height="2.40" rx="0" stroke="#161616" stroke-width="0.9" fill="#fff"/>
<line x1="214.50" y1="442.80" x2="383.00" y2="442.80" stroke="#b9c4c0" stroke-width="0.8" />
<text transform="translate(298.80 434.40) rotate(0) scale(0.66 1.15)" font-family="'Liberation Mono',monospace" font-size="9.4" font-weight="bold" text-anchor="middle" dominant-baseline="central" fill="#161616" letter-spacing="0"  stroke="#161616" stroke-width="0.45">500.23</text>
<path d="M124.70 492.20 L119.00 496.30 L109.10 496.30 M124.70 521.10 L119.00 517.00 L109.10 517.00" stroke="#161616" stroke-width="1.5" fill="none" />
<line x1="119.00" y1="496.30" x2="119.00" y2="517.00" stroke="#161616" stroke-width="1.1" />
<rect x="107.20" y="496.50" width="1.90" height="20.30" rx="0" stroke="#10142a" stroke-width="0.6" fill="#1b2038"/>
<rect x="94.30" y="496.30" width="12.90" height="20.70" rx="2.2" stroke="#161616" stroke-width="1.3" fill="none"/>
<line x1="94.50" y1="501.70" x2="107.10" y2="501.70" stroke="#161616" stroke-width="1" />
<line x1="94.50" y1="512.00" x2="107.10" y2="512.00" stroke="#161616" stroke-width="1" />
<rect x="88.40" y="499.40" width="5.60" height="14.00" rx="1.5" stroke="#161616" stroke-width="1.2" fill="none"/>
<line x1="88.50" y1="502.60" x2="93.90" y2="502.60" stroke="#161616" stroke-width="0.9" />
<line x1="88.50" y1="510.70" x2="93.90" y2="510.70" stroke="#161616" stroke-width="0.9" />
<line x1="86.80" y1="504.20" x2="86.80" y2="509.10" stroke="#555" stroke-width="1" />
<line x1="472.60" y1="488.70" x2="523.80" y2="488.70" stroke="#161616" stroke-width="1.5" />
<line x1="472.60" y1="526.40" x2="523.80" y2="526.40" stroke="#161616" stroke-width="1.5" />
<line x1="523.90" y1="488.10" x2="523.90" y2="526.90" stroke="#2a3550" stroke-width="1.3" />
<line x1="543.30" y1="491.20" x2="543.30" y2="523.60" stroke="#2a3550" stroke-width="1.3" />
<rect x="520.30" y="478.60" width="5.30" height="7.80" rx="1.6" stroke="#161616" stroke-width="1.2" fill="#fff"/>
<line x1="520.60" y1="482.50" x2="525.30" y2="482.50" stroke="#444" stroke-width="0.7" />
<rect x="541.90" y="479.00" width="3.10" height="7.00" rx="1.2" stroke="#161616" stroke-width="1.2" fill="#fff"/>
<rect x="520.30" y="527.80" width="5.30" height="7.80" rx="1.6" stroke="#161616" stroke-width="1.2" fill="#fff"/>
<line x1="520.60" y1="531.70" x2="525.30" y2="531.70" stroke="#444" stroke-width="0.7" />
<rect x="541.90" y="528.20" width="3.10" height="7.00" rx="1.2" stroke="#161616" stroke-width="1.2" fill="#fff"/>
<rect x="525.60" y="465.20" width="7.40" height="84.80" rx="0" stroke="#161616" stroke-width="1.3" fill="#fff"/>
<rect x="534.50" y="465.20" width="7.40" height="84.80" rx="0" stroke="#161616" stroke-width="1.3" fill="#fff"/>
<line x1="533.75" y1="479.90" x2="533.75" y2="534.30" stroke="#0c0c14" stroke-width="1.3" />
<line x1="543.30" y1="491.70" x2="584.40" y2="491.70" stroke="#161616" stroke-width="1.5" />
<line x1="543.30" y1="522.90" x2="584.40" y2="522.90" stroke="#161616" stroke-width="1.5" />
<rect x="36.80" y="417.80" width="51.60" height="26.90" rx="0" stroke="#161616" stroke-width="1.4" fill="none"/>
<rect x="39.00" y="419.00" width="42.30" height="8.30" rx="0" stroke="#161616" stroke-width="0.6" fill="#111"/>
<line x1="42.50" y1="421.60" x2="61.50" y2="421.60" stroke="#f4f4f4" stroke-width="1.1" />
<line x1="42.50" y1="424.60" x2="61.50" y2="424.60" stroke="#f4f4f4" stroke-width="1.1" />
<rect x="65.30" y="420.80" width="2.00" height="5.00" rx="0" stroke="#161616" stroke-width="0" fill="#f4f4f4"/>
<rect x="70.20" y="420.60" width="7.20" height="5.40" rx="0" stroke="#161616" stroke-width="0" fill="#f4f4f4"/>
<rect x="72.30" y="421.90" width="3.40" height="2.80" rx="0" stroke="#161616" stroke-width="0" fill="#111"/>
<line x1="35.20" y1="422.80" x2="36.60" y2="422.80" stroke="#161616" stroke-width="1.4" />
<path d="M52.6 424.5 L52.6 491.7 A20.4 16.7 0 0 0 73.0 508.4 L87.1 508.4" stroke="#161616" stroke-width="1.4" fill="none" />
<path d="M56.6 424.5 L56.6 491.7 A16.4 12.7 0 0 0 73.0 504.4 L87.1 504.4" stroke="#161616" stroke-width="1.4" fill="none" />
<rect x="53.30" y="423.60" width="2.80" height="4.00" rx="0" stroke="#161616" stroke-width="0" fill="#fff"/>
<g transform="translate(472.3 541.8)">
<path d="M0.3 -5.9 L3.8 -5.0 L3.8 4.8 L-3.2 4.8" stroke="#161616" stroke-width="1.1" fill="none" />
<rect x="3.90" y="-5.20" width="1.50" height="10.20" rx="0" stroke="#161616" stroke-width="0" fill="#15151f"/>
<rect x="5.40" y="-5.40" width="6.30" height="10.80" rx="1.2" stroke="#161616" stroke-width="1.3" fill="none"/>
<line x1="5.70" y1="-2.60" x2="11.40" y2="-2.60" stroke="#161616" stroke-width="0.9" />
<line x1="5.70" y1="2.80" x2="11.40" y2="2.80" stroke="#161616" stroke-width="0.9" />
<rect x="12.40" y="-4.30" width="5.40" height="8.60" rx="1.2" stroke="#161616" stroke-width="1.2" fill="none"/>
<line x1="15.10" y1="-4.10" x2="15.10" y2="4.10" stroke="#161616" stroke-width="0.8" />
<path d="M18.0 -3.9 L20.2 -3.9 L22.5 -1.4 L22.5 1.6 L20.2 3.9 L18.0 3.9 Z" stroke="#161616" stroke-width="0.7" fill="#15151f" />
</g>
<path d="M208.40 243.00 L208.40 257.50 L66.60 417.60" stroke="#161616" stroke-width="1.5" fill="none" />
<text transform="translate(218.40 251.00) rotate(90) scale(0.52 1.0)" font-family="'Liberation Sans',sans-serif" font-size="16.5" font-weight="normal" text-anchor="middle" dominant-baseline="central" fill="#161616" letter-spacing="0"  stroke="#161616" stroke-width="0.7">4</text>
<path d="M376.00 243.00 L376.00 264.30 L252.30 408.00" stroke="#161616" stroke-width="1.5" fill="none" />
<text transform="translate(385.20 254.60) rotate(90) scale(0.52 1.0)" font-family="'Liberation Sans',sans-serif" font-size="16.5" font-weight="normal" text-anchor="middle" dominant-baseline="central" fill="#161616" letter-spacing="0"  stroke="#161616" stroke-width="0.7">3</text>
<path d="M475.20 216.00 L475.20 266.00 L421.00 306.00" stroke="#161616" stroke-width="1.5" fill="none" />
<path d="M517.30 243.40 L517.30 264.60 L583.00 352.50" stroke="#161616" stroke-width="1.5" fill="none" />
<text transform="translate(526.30 254.80) rotate(90) scale(0.52 1.0)" font-family="'Liberation Sans',sans-serif" font-size="16.5" font-weight="normal" text-anchor="middle" dominant-baseline="central" fill="#161616" letter-spacing="0"  stroke="#161616" stroke-width="0.7">2</text>
<path d="M548.80 243.60 L548.80 264.60 L639.80 398.00" stroke="#161616" stroke-width="1.5" fill="none" />
<text transform="translate(557.20 253.30) rotate(90) scale(0.52 1.0)" font-family="'Liberation Sans',sans-serif" font-size="16.5" font-weight="normal" text-anchor="middle" dominant-baseline="central" fill="#161616" letter-spacing="0"  stroke="#161616" stroke-width="0.7">1</text>
<path d="M132.30 628.00 L132.30 602.50 L61.40 504.60" stroke="#161616" stroke-width="1.5" fill="none" />
<text transform="translate(145.00 615.00) rotate(90) scale(0.52 1.0)" font-family="'Liberation Sans',sans-serif" font-size="16.5" font-weight="normal" text-anchor="middle" dominant-baseline="central" fill="#161616" letter-spacing="0"  stroke="#161616" stroke-width="0.7">9</text>
<path d="M176.00 628.00 L176.00 602.50 L233.70 505.20" stroke="#161616" stroke-width="1.5" fill="none" />
<text transform="translate(187.00 616.00) rotate(90) scale(0.52 1.0)" font-family="'Liberation Sans',sans-serif" font-size="16.5" font-weight="normal" text-anchor="middle" dominant-baseline="central" fill="#161616" letter-spacing="0"  stroke="#161616" stroke-width="0.7">8</text>
<path d="M233.10 628.50 L233.10 602.50 L291.30 505.20" stroke="#161616" stroke-width="1.5" fill="none" />
<text transform="translate(243.70 617.00) rotate(90) scale(0.52 1.0)" font-family="'Liberation Sans',sans-serif" font-size="16.5" font-weight="normal" text-anchor="middle" dominant-baseline="central" fill="#161616" letter-spacing="0"  stroke="#161616" stroke-width="0.7">8</text>
<path d="M280.80 628.00 L280.80 602.30 L520.50 483.80" stroke="#161616" stroke-width="1.5" fill="none" />
<text transform="translate(291.60 616.50) rotate(90) scale(0.52 1.0)" font-family="'Liberation Sans',sans-serif" font-size="16.5" font-weight="normal" text-anchor="middle" dominant-baseline="central" fill="#161616" letter-spacing="0"  stroke="#161616" stroke-width="0.7">7</text>
<path d="M436.80 628.00 L436.80 602.30 L532.60 524.50" stroke="#161616" stroke-width="1.5" fill="none" />
<text transform="translate(449.00 616.20) rotate(90) scale(0.52 1.0)" font-family="'Liberation Sans',sans-serif" font-size="16.5" font-weight="normal" text-anchor="middle" dominant-baseline="central" fill="#161616" letter-spacing="0"  stroke="#161616" stroke-width="0.7">6</text>
<path d="M481.50 628.00 L481.50 602.30 L611.00 492.70" stroke="#161616" stroke-width="1.5" fill="none" />
<text transform="translate(492.30 615.70) rotate(90) scale(0.52 1.0)" font-family="'Liberation Sans',sans-serif" font-size="16.5" font-weight="normal" text-anchor="middle" dominant-baseline="central" fill="#161616" letter-spacing="0"  stroke="#161616" stroke-width="0.7">5</text>
<text transform="translate(452.90 243.20) rotate(90) scale(0.9 1.36)" font-family="'Liberation Mono',monospace" font-size="17" font-weight="normal" text-anchor="middle" fill="#161616" letter-spacing="0">Furnace</text>
<text transform="translate(420.00 237.50) rotate(90) scale(0.86 1.16)" font-family="'Liberation Mono',monospace" font-size="17" font-weight="normal" text-anchor="middle" fill="#161616" letter-spacing="0">wall</text>
<text transform="translate(483.80 227.40) rotate(90) scale(1.07 1.6)" font-family="'Liberation Sans','Noto Sans CJK SC',sans-serif" font-size="15.5" font-weight="400" text-anchor="middle" fill="#161616" letter-spacing="0">炉墙</text>
</svg>
</body></html>
